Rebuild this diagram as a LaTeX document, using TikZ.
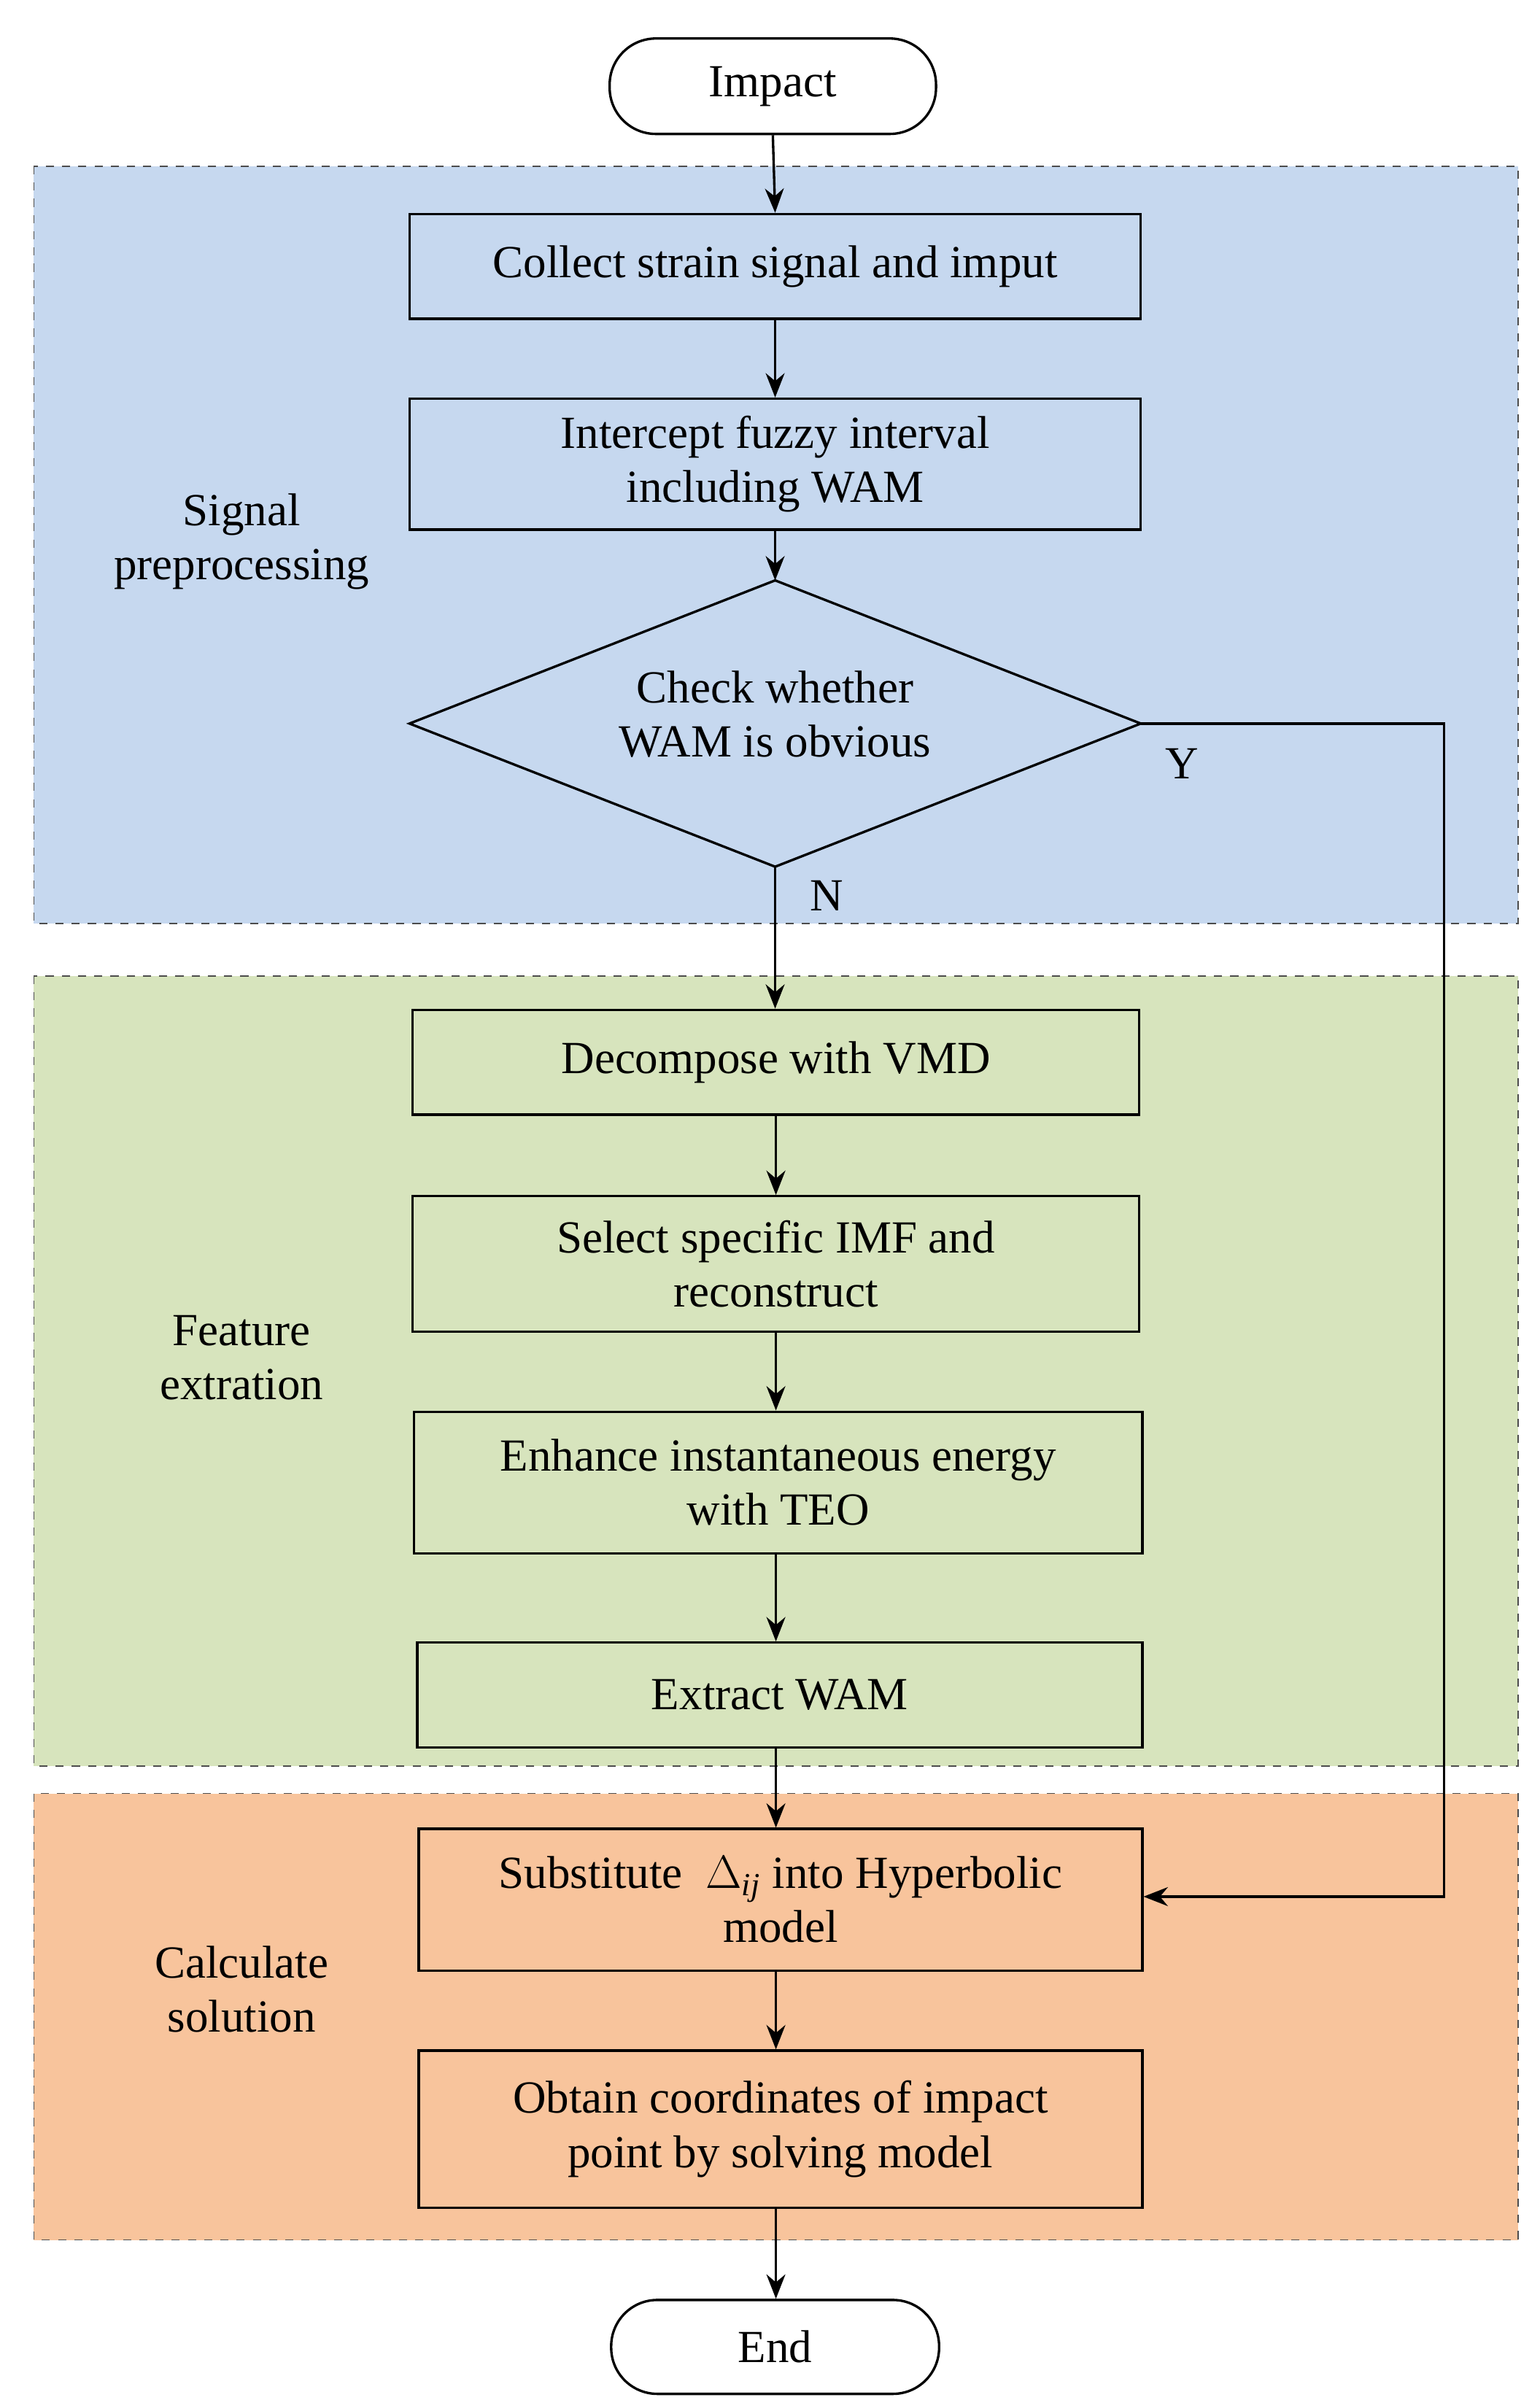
\documentclass[tikz,border=0pt]{standalone}
\usepackage{fontspec}
\setmainfont{Liberation Serif}
\usetikzlibrary{shapes.geometric,arrows.meta}
\definecolor{bluebg}{HTML}{C6D8EF}
\definecolor{greenbg}{HTML}{D7E4BD}
\definecolor{orangebg}{HTML}{F8C49C}
\begin{document}
\begin{tikzpicture}[x=0.02cm,y=-0.02cm,
  font=\fontsize{17}{20}\selectfont,
  region/.style={draw=black!70,dashed,line width=0.5pt},
  box/.style={draw,line width=0.9pt,align=center,inner sep=0pt},
  term/.style={draw,line width=0.9pt,rounded corners=0.6cm,inner sep=0pt},
  lab/.style={align=center},
  arr/.style={line width=0.9pt,-{Stealth[length=9pt,width=7pt]}}]
\useasboundingbox (0,0) rectangle (1000,1559);
\fill[bluebg] (22,108) rectangle (986,600);
\draw[region] (22,108) rectangle (986,600);
\fill[greenbg] (22,634) rectangle (986,1147);
\draw[region] (22,634) rectangle (986,1147);
\fill[orangebg] (22,1165) rectangle (986,1455);
\draw[region] (22,1165) rectangle (986,1455);

\node[term,minimum width=212*0.02cm,minimum height=62*0.02cm] (imp) at (502,56) {Impact};
\node[box,minimum width=475*0.02cm,minimum height=68*0.02cm] (b1) at (503.5,173) {Collect strain signal and imput};
\node[box,minimum width=475*0.02cm,minimum height=85*0.02cm] (b2) at (503.5,301.5) {Intercept fuzzy interval\\including WAM};
\coordinate (dc) at (503.5,470);
\draw[line width=0.9pt,fill=bluebg] (266,470) coordinate (dl) -- (503.5,377) coordinate (dt) -- (741,470) coordinate (dr) -- (503.5,563) coordinate (db) -- cycle;
\node[lab] (dtext) at (503.5,464) {Check whether\\WAM is obvious};
\node[box,minimum width=472*0.02cm,minimum height=68*0.02cm] (b3) at (504,690) {Decompose with VMD};
\node[box,minimum width=472*0.02cm,minimum height=88*0.02cm] (b4) at (504,821) {Select specific IMF and\\reconstruct};
\node[box,minimum width=473*0.02cm,minimum height=92*0.02cm] (b5) at (505.5,963) {Enhance instantaneous energy\\with TEO};
\node[box,minimum width=471*0.02cm,minimum height=68*0.02cm] (b6) at (506.5,1101) {Extract WAM};
\node[box,minimum width=470*0.02cm,minimum height=92*0.02cm] (b7) at (507,1234) {Substitute\ \ $\Delta_{\mathit{ij}}$ into Hyperbolic\\model};
\node[box,minimum width=470*0.02cm,minimum height=102*0.02cm] (b8) at (507,1383) {Obtain coordinates of impact\\point by solving model};
\node[term,minimum width=213*0.02cm,minimum height=61*0.02cm] (end) at (503.5,1524.5) {End};

\node[lab] (l1) at (157,352) {Signal\\preprocessing};
\node[lab] (l2) at (157,882) {Feature\\extration};
\node[lab] (l3) at (157,1292) {Calculate\\solution};
\node (ny) at (768,496) {Y};
\node (nn) at (537,582) {N};

\draw[arr] (imp.south) -- (b1.north);
\draw[arr] (b1.south) -- (b2.north);
\draw[arr] (b2.south) -- (dt);
\draw[arr] (db) -- (db |- b3.north);
\draw[arr] (b3.south) -- (b3.south |- b4.north);
\draw[arr] (b4.south) -- (b4.south |- b5.north);
\draw[arr] (b5.south -| b4.south) -- (b4.south |- b6.north);
\draw[arr] (b6.south -| b4.south) -- (b4.south |- b7.north);
\draw[arr] (b7.south -| b4.south) -- (b4.south |- b8.north);
\draw[arr] (b8.south -| b4.south) -- (b4.south |- end.north);
\coordinate (c1) at (938,470);
\coordinate (c2) at (938,1232);
\draw[arr] (dr) -- (c1) -- (c2) -- (b7.east |- c2);
\end{tikzpicture}
\end{document}
